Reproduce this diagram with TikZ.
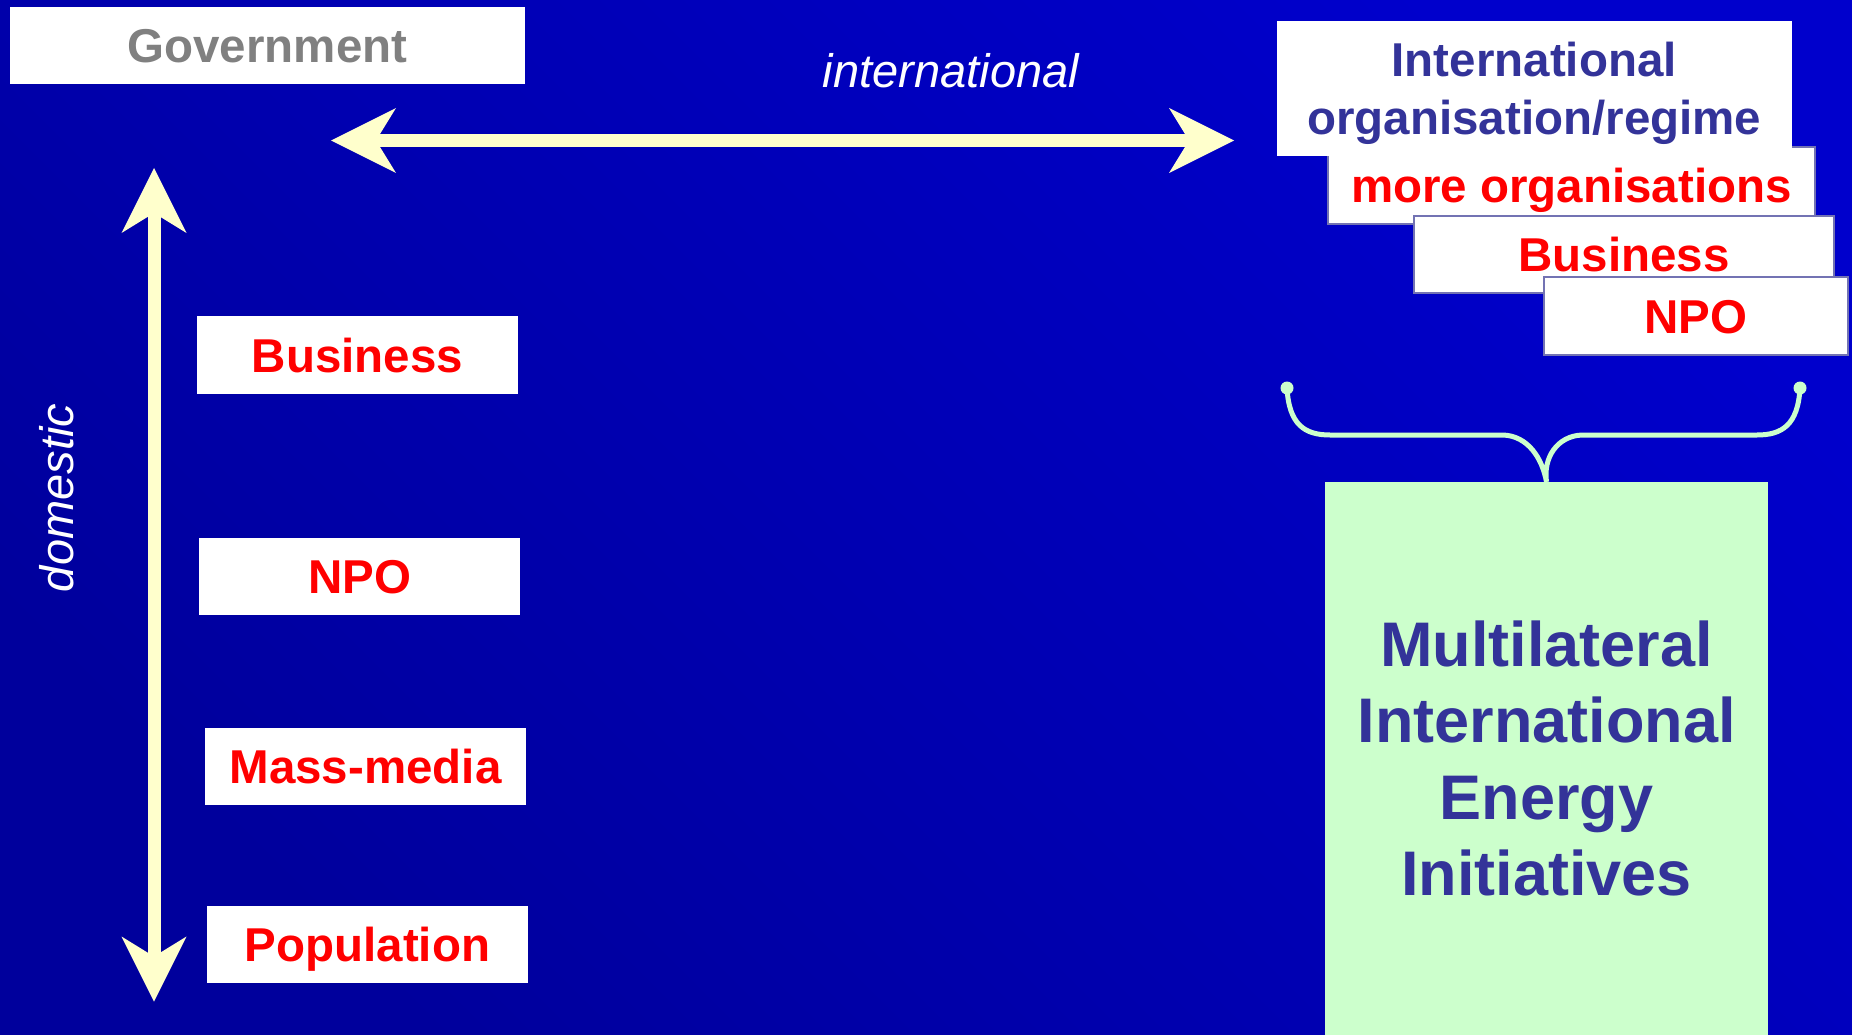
\documentclass[tikz,border=0pt]{standalone}
\usepackage{fontspec}
\setmainfont{Liberation Sans}
\usetikzlibrary{arrows.meta}
\definecolor{bgtop}{HTML}{0000CC}
\definecolor{bgbot}{HTML}{00009C}
\definecolor{navy}{HTML}{333399}
\definecolor{arrowyel}{HTML}{FFFFCC}
\definecolor{mint}{HTML}{CCFFCC}
\definecolor{edgeblue}{HTML}{7373B3}
\definecolor{govgrey}{HTML}{808080}
\begin{document}
\begin{tikzpicture}[x=1pt,y=-1pt,
  wbox/.style={fill=white, inner sep=0pt, text height=34pt, text depth=0pt,
    font=\fontsize{47.5}{58}\selectfont\bfseries, text=red},
  rbox/.style={wbox, draw=edgeblue, line width=1.5pt},
  axistext/.style={text=white, inner sep=0pt, font=\fontsize{47}{56}\selectfont\itshape},
  bigarrow/.style={draw=arrowyel, line width=13pt,
    {Stealth[length=65pt,width=65pt,inset=20pt,line width=0pt]}-{Stealth[length=65pt,width=65pt,inset=20pt,line width=0pt]}},
  bracketline/.style={draw=mint, line width=5pt, line cap=round},
]
\useasboundingbox (0,0) rectangle (1852,1035);
\shade[top color=bgtop, bottom color=bgbot, shading angle=-45] (0,0) rectangle (1852,1035);

% left column
\node[wbox, text=govgrey, minimum width=515pt, minimum height=77pt] (gov) at (267.5,45.5) {Government};
\node[wbox, minimum width=321pt, minimum height=78pt] (busL) at (357.5,355) {Business};
\node[wbox, minimum width=321pt, minimum height=77pt] (npoL) at (359.5,576.5) {NPO};
\node[wbox, minimum width=321pt, minimum height=77pt] (mmL) at (365.5,766.3) {Mass-media};
\node[wbox, minimum width=321pt, minimum height=77pt] (popL) at (367.5,944.4) {Population};

% axes
\coordinate (hL) at (331,140.5);
\coordinate (hR) at (1234,140.5);
\coordinate (vT) at (154,168);
\coordinate (vB) at (154,1001.5);
\draw[bigarrow] (hL) -- (hR);
\draw[bigarrow] (vT) -- (vB);
\node[axistext, anchor=base] (intl) at (951,88) {international};
\node[axistext, anchor=base, rotate=90] (dom) at (73,498) {domestic};

% right stack
\node[rbox, minimum width=487pt, minimum height=77pt] (moreorg) at (1571.5,185.5) {more organisations};
\node[wbox, text=navy, align=center, text height=92pt, minimum width=514.5pt, minimum height=135pt] (intorg) at (1534.25,88.5) {International\\organisation/regime};
\node[rbox, minimum width=420pt, minimum height=77pt] (busR) at (1624,254.5) {Business};
\node[rbox, minimum width=304pt, minimum height=78pt] (npoR) at (1696,316) {NPO};

% green box
\node[fill=mint, inner sep=0pt, text=navy, align=center, minimum width=443pt, minimum height=553pt,
  text height=274.6pt, text depth=0pt, font=\fontsize{63}{76.5}\selectfont\bfseries] (mie) at (1546.5,758.5)
  {Multilateral\\International\\Energy\\Initiatives};

% bracket
\coordinate (brL) at (1287,388);
\coordinate (brR) at (1800,388);
\draw[bracketline] (brL) .. controls (1289,425) and (1305,435) .. (1330,435) -- (1503,435)
  .. controls (1528,436) and (1542,458) .. (mie.north)
  .. controls (1543,458) and (1557,436) .. (1582,435) -- (1757,435)
  .. controls (1782,435) and (1798,425) .. (brR);
\fill[mint] (brL) circle (6.5pt);
\fill[mint] (brR) circle (6.5pt);
\end{tikzpicture}
\end{document}
